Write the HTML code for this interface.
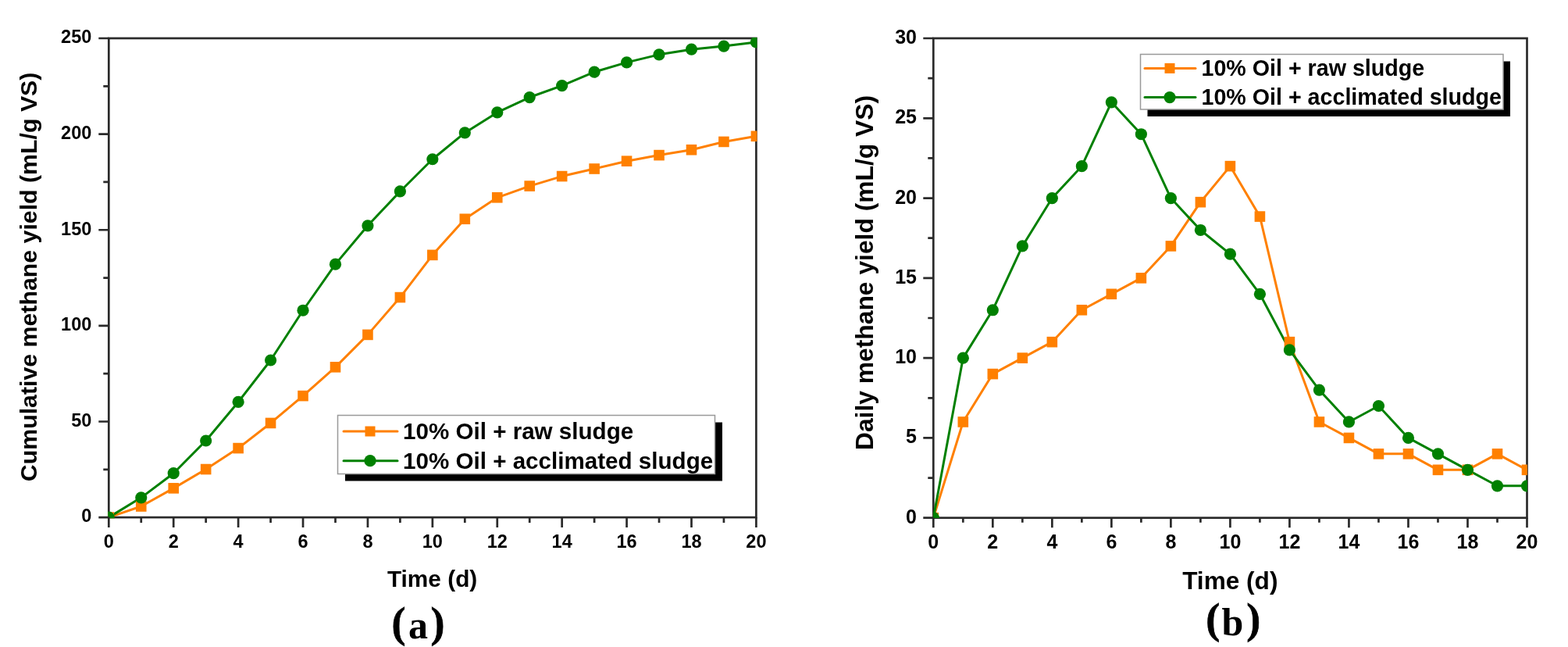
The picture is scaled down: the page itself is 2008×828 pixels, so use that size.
<!DOCTYPE html>
<html><head><meta charset="utf-8"><title>Methane yield</title><style>
html,body{margin:0;padding:0;background:#fff;}
body{width:2008px;height:828px;overflow:hidden;}
svg{display:block;}
text{font-family:"Liberation Sans",Arial,sans-serif;font-weight:bold;fill:#000;}
text.serif{font-family:"Liberation Serif","Times New Roman",serif;}
</style></head><body>
<svg width="2008" height="828" viewBox="0 0 2008 828">
<rect width="2008" height="828" fill="#fff"/>
<clipPath id="ca"><rect x="138.2" y="47.9" width="831.3" height="615.3"/></clipPath>
<rect x="139.3" y="49" width="829.1" height="613.1" fill="none" stroke="#2a2a2a" stroke-width="2.7"/>
<g clip-path="url(#ca)">
<polyline points="139.3,662.1 180.75,648 222.21,624.82 263.67,600.54 305.12,573.57 346.57,541.44 388.03,506.62 429.49,469.83 470.94,428.39 512.39,380.56 553.85,326.37 595.31,280.26 636.76,252.79 678.21,238.08 719.67,225.57 761.12,216.01 802.58,206.2 844.04,198.6 885.49,191.73 926.94,181.43 968.4,174.32" fill="none" stroke="#ff8000" stroke-width="3" stroke-linejoin="round"/>
<polyline points="139.3,662.1 180.75,636.84 222.21,605.69 263.67,564 305.12,514.47 346.57,461 388.03,397.24 429.49,338.14 470.94,288.84 512.39,244.95 553.85,203.75 595.31,169.9 636.76,143.91 678.21,124.53 719.67,109.57 761.12,92.16 802.58,79.9 844.04,69.85 885.49,63.22 926.94,59.05 968.4,53.9" fill="none" stroke="#008000" stroke-width="3" stroke-linejoin="round"/>
<rect x="132.5" y="655.3" width="13.6" height="13.6" fill="#ff8000"/>
<rect x="173.95" y="641.2" width="13.6" height="13.6" fill="#ff8000"/>
<rect x="215.41" y="618.02" width="13.6" height="13.6" fill="#ff8000"/>
<rect x="256.87" y="593.74" width="13.6" height="13.6" fill="#ff8000"/>
<rect x="298.32" y="566.77" width="13.6" height="13.6" fill="#ff8000"/>
<rect x="339.77" y="534.64" width="13.6" height="13.6" fill="#ff8000"/>
<rect x="381.23" y="499.82" width="13.6" height="13.6" fill="#ff8000"/>
<rect x="422.69" y="463.03" width="13.6" height="13.6" fill="#ff8000"/>
<rect x="464.14" y="421.59" width="13.6" height="13.6" fill="#ff8000"/>
<rect x="505.59" y="373.76" width="13.6" height="13.6" fill="#ff8000"/>
<rect x="547.05" y="319.57" width="13.6" height="13.6" fill="#ff8000"/>
<rect x="588.51" y="273.46" width="13.6" height="13.6" fill="#ff8000"/>
<rect x="629.96" y="245.99" width="13.6" height="13.6" fill="#ff8000"/>
<rect x="671.41" y="231.28" width="13.6" height="13.6" fill="#ff8000"/>
<rect x="712.87" y="218.77" width="13.6" height="13.6" fill="#ff8000"/>
<rect x="754.33" y="209.21" width="13.6" height="13.6" fill="#ff8000"/>
<rect x="795.78" y="199.4" width="13.6" height="13.6" fill="#ff8000"/>
<rect x="837.24" y="191.8" width="13.6" height="13.6" fill="#ff8000"/>
<rect x="878.69" y="184.93" width="13.6" height="13.6" fill="#ff8000"/>
<rect x="920.14" y="174.63" width="13.6" height="13.6" fill="#ff8000"/>
<rect x="961.6" y="167.52" width="13.6" height="13.6" fill="#ff8000"/>
<circle cx="139.3" cy="662.1" r="7.6" fill="#008000"/>
<circle cx="180.75" cy="636.84" r="7.6" fill="#008000"/>
<circle cx="222.21" cy="605.69" r="7.6" fill="#008000"/>
<circle cx="263.67" cy="564" r="7.6" fill="#008000"/>
<circle cx="305.12" cy="514.47" r="7.6" fill="#008000"/>
<circle cx="346.57" cy="461" r="7.6" fill="#008000"/>
<circle cx="388.03" cy="397.24" r="7.6" fill="#008000"/>
<circle cx="429.49" cy="338.14" r="7.6" fill="#008000"/>
<circle cx="470.94" cy="288.84" r="7.6" fill="#008000"/>
<circle cx="512.39" cy="244.95" r="7.6" fill="#008000"/>
<circle cx="553.85" cy="203.75" r="7.6" fill="#008000"/>
<circle cx="595.31" cy="169.9" r="7.6" fill="#008000"/>
<circle cx="636.76" cy="143.91" r="7.6" fill="#008000"/>
<circle cx="678.21" cy="124.53" r="7.6" fill="#008000"/>
<circle cx="719.67" cy="109.57" r="7.6" fill="#008000"/>
<circle cx="761.12" cy="92.16" r="7.6" fill="#008000"/>
<circle cx="802.58" cy="79.9" r="7.6" fill="#008000"/>
<circle cx="844.04" cy="69.85" r="7.6" fill="#008000"/>
<circle cx="885.49" cy="63.22" r="7.6" fill="#008000"/>
<circle cx="926.94" cy="59.05" r="7.6" fill="#008000"/>
<circle cx="968.4" cy="53.9" r="7.6" fill="#008000"/>
</g>
<path d="M126.3 662.1H139.3M126.3 539.48H139.3M126.3 416.86H139.3M126.3 294.24H139.3M126.3 171.62H139.3M126.3 49H139.3M132.3 600.79H139.3M132.3 478.17H139.3M132.3 355.55H139.3M132.3 232.93H139.3M132.3 110.31H139.3M139.3 662.1V675.1M180.75 662.1V669.1M222.21 662.1V675.1M263.67 662.1V669.1M305.12 662.1V675.1M346.57 662.1V669.1M388.03 662.1V675.1M429.49 662.1V669.1M470.94 662.1V675.1M512.39 662.1V669.1M553.85 662.1V675.1M595.31 662.1V669.1M636.76 662.1V675.1M678.21 662.1V669.1M719.67 662.1V675.1M761.12 662.1V669.1M802.58 662.1V675.1M844.04 662.1V669.1M885.49 662.1V675.1M926.94 662.1V669.1M968.4 662.1V675.1" stroke="#2a2a2a" stroke-width="2.7" fill="none"/>
<text x="117.3" y="668.4" text-anchor="end" font-size="23.5">0</text>
<text x="117.3" y="545.78" text-anchor="end" font-size="23.5">50</text>
<text x="117.3" y="423.16" text-anchor="end" font-size="23.5">100</text>
<text x="117.3" y="300.54" text-anchor="end" font-size="23.5">150</text>
<text x="117.3" y="177.92" text-anchor="end" font-size="23.5">200</text>
<text x="117.3" y="55.3" text-anchor="end" font-size="23.5">250</text>
<text x="139.3" y="701" text-anchor="middle" font-size="23.5">0</text>
<text x="222.21" y="701" text-anchor="middle" font-size="23.5">2</text>
<text x="305.12" y="701" text-anchor="middle" font-size="23.5">4</text>
<text x="388.03" y="701" text-anchor="middle" font-size="23.5">6</text>
<text x="470.94" y="701" text-anchor="middle" font-size="23.5">8</text>
<text x="553.85" y="701" text-anchor="middle" font-size="23.5">10</text>
<text x="636.76" y="701" text-anchor="middle" font-size="23.5">12</text>
<text x="719.67" y="701" text-anchor="middle" font-size="23.5">14</text>
<text x="802.58" y="701" text-anchor="middle" font-size="23.5">16</text>
<text x="885.49" y="701" text-anchor="middle" font-size="23.5">18</text>
<text x="968.4" y="701" text-anchor="middle" font-size="23.5">20</text>
<text x="553.6" y="750.5" text-anchor="middle" font-size="29.8">Time (d)</text>
<text transform="translate(47 354.4) rotate(-90)" text-anchor="middle" font-size="30.3">Cumulative methane yield (mL/g VS)</text>
<text class="serif" text-anchor="middle"><tspan x="510.5" y="814.5" font-size="54" stroke="#000" stroke-width="0.7">(</tspan><tspan x="535.6" y="817" font-size="50">a</tspan><tspan x="560.6" y="814.5" font-size="54" stroke="#000" stroke-width="0.7">)</tspan></text>
<rect x="442" y="540.5" width="483" height="75" fill="#000"/>
<rect x="432.5" y="531.5" width="483" height="75" fill="#fff" stroke="#999" stroke-width="1.5"/>
<path d="M440 552H509" stroke="#ff8000" stroke-width="3" stroke-linecap="round"/>
<rect x="467.5" y="545.5" width="13" height="13" fill="#ff8000"/>
<path d="M440 589.7H509" stroke="#008000" stroke-width="3" stroke-linecap="round"/>
<circle cx="474" cy="589.7" r="7.6" fill="#008000"/>
<text x="516" y="561.8" font-size="29.6">10% Oil + raw sludge</text>
<text x="516" y="599.6" font-size="29.6">10% Oil + acclimated sludge</text>
<clipPath id="cb"><rect x="1194.9" y="48.6" width="761" height="614.5"/></clipPath>
<rect x="1195.3" y="49" width="760.2" height="613.7" fill="none" stroke="#2a2a2a" stroke-width="2.7"/>
<g clip-path="url(#cb)">
<polyline points="1195.3,662.7 1233.31,539.96 1271.32,478.59 1309.33,458.13 1347.34,437.68 1385.35,396.76 1423.36,376.31 1461.37,355.85 1499.38,314.94 1537.39,258.68 1575.4,212.65 1613.41,277.09 1651.42,437.68 1689.43,539.96 1727.44,560.42 1765.45,580.87 1803.46,580.87 1841.47,601.33 1879.48,601.33 1917.49,580.87 1955.5,601.33" fill="none" stroke="#ff8000" stroke-width="3" stroke-linejoin="round"/>
<polyline points="1195.3,662.7 1233.31,458.13 1271.32,396.76 1309.33,314.94 1347.34,253.57 1385.35,212.65 1423.36,130.83 1461.37,171.74 1499.38,253.57 1537.39,294.48 1575.4,325.17 1613.41,376.31 1651.42,447.91 1689.43,499.05 1727.44,539.96 1765.45,519.5 1803.46,560.42 1841.47,580.87 1879.48,601.33 1917.49,621.79 1955.5,621.79" fill="none" stroke="#008000" stroke-width="3" stroke-linejoin="round"/>
<rect x="1188.5" y="655.9" width="13.6" height="13.6" fill="#ff8000"/>
<rect x="1226.51" y="533.16" width="13.6" height="13.6" fill="#ff8000"/>
<rect x="1264.52" y="471.79" width="13.6" height="13.6" fill="#ff8000"/>
<rect x="1302.53" y="451.33" width="13.6" height="13.6" fill="#ff8000"/>
<rect x="1340.54" y="430.88" width="13.6" height="13.6" fill="#ff8000"/>
<rect x="1378.55" y="389.96" width="13.6" height="13.6" fill="#ff8000"/>
<rect x="1416.56" y="369.51" width="13.6" height="13.6" fill="#ff8000"/>
<rect x="1454.57" y="349.05" width="13.6" height="13.6" fill="#ff8000"/>
<rect x="1492.58" y="308.14" width="13.6" height="13.6" fill="#ff8000"/>
<rect x="1530.59" y="251.88" width="13.6" height="13.6" fill="#ff8000"/>
<rect x="1568.6" y="205.85" width="13.6" height="13.6" fill="#ff8000"/>
<rect x="1606.61" y="270.29" width="13.6" height="13.6" fill="#ff8000"/>
<rect x="1644.62" y="430.88" width="13.6" height="13.6" fill="#ff8000"/>
<rect x="1682.63" y="533.16" width="13.6" height="13.6" fill="#ff8000"/>
<rect x="1720.64" y="553.62" width="13.6" height="13.6" fill="#ff8000"/>
<rect x="1758.65" y="574.07" width="13.6" height="13.6" fill="#ff8000"/>
<rect x="1796.66" y="574.07" width="13.6" height="13.6" fill="#ff8000"/>
<rect x="1834.67" y="594.53" width="13.6" height="13.6" fill="#ff8000"/>
<rect x="1872.68" y="594.53" width="13.6" height="13.6" fill="#ff8000"/>
<rect x="1910.69" y="574.07" width="13.6" height="13.6" fill="#ff8000"/>
<rect x="1948.7" y="594.53" width="13.6" height="13.6" fill="#ff8000"/>
<circle cx="1195.3" cy="662.7" r="7.6" fill="#008000"/>
<circle cx="1233.31" cy="458.13" r="7.6" fill="#008000"/>
<circle cx="1271.32" cy="396.76" r="7.6" fill="#008000"/>
<circle cx="1309.33" cy="314.94" r="7.6" fill="#008000"/>
<circle cx="1347.34" cy="253.57" r="7.6" fill="#008000"/>
<circle cx="1385.35" cy="212.65" r="7.6" fill="#008000"/>
<circle cx="1423.36" cy="130.83" r="7.6" fill="#008000"/>
<circle cx="1461.37" cy="171.74" r="7.6" fill="#008000"/>
<circle cx="1499.38" cy="253.57" r="7.6" fill="#008000"/>
<circle cx="1537.39" cy="294.48" r="7.6" fill="#008000"/>
<circle cx="1575.4" cy="325.17" r="7.6" fill="#008000"/>
<circle cx="1613.41" cy="376.31" r="7.6" fill="#008000"/>
<circle cx="1651.42" cy="447.91" r="7.6" fill="#008000"/>
<circle cx="1689.43" cy="499.05" r="7.6" fill="#008000"/>
<circle cx="1727.44" cy="539.96" r="7.6" fill="#008000"/>
<circle cx="1765.45" cy="519.5" r="7.6" fill="#008000"/>
<circle cx="1803.46" cy="560.42" r="7.6" fill="#008000"/>
<circle cx="1841.47" cy="580.87" r="7.6" fill="#008000"/>
<circle cx="1879.48" cy="601.33" r="7.6" fill="#008000"/>
<circle cx="1917.49" cy="621.79" r="7.6" fill="#008000"/>
<circle cx="1955.5" cy="621.79" r="7.6" fill="#008000"/>
</g>
<path d="M1182.3 662.7H1195.3M1182.3 560.42H1195.3M1182.3 458.13H1195.3M1182.3 355.85H1195.3M1182.3 253.57H1195.3M1182.3 151.28H1195.3M1182.3 49H1195.3M1188.3 611.56H1195.3M1188.3 509.28H1195.3M1188.3 406.99H1195.3M1188.3 304.71H1195.3M1188.3 202.43H1195.3M1188.3 100.14H1195.3M1195.3 662.7V675.2M1233.31 662.7V668.7M1271.32 662.7V675.2M1309.33 662.7V668.7M1347.34 662.7V675.2M1385.35 662.7V668.7M1423.36 662.7V675.2M1461.37 662.7V668.7M1499.38 662.7V675.2M1537.39 662.7V668.7M1575.4 662.7V675.2M1613.41 662.7V668.7M1651.42 662.7V675.2M1689.43 662.7V668.7M1727.44 662.7V675.2M1765.45 662.7V668.7M1803.46 662.7V675.2M1841.47 662.7V668.7M1879.48 662.7V675.2M1917.49 662.7V668.7M1955.5 662.7V675.2" stroke="#2a2a2a" stroke-width="2.7" fill="none"/>
<text x="1174" y="669.75" text-anchor="end" font-size="25">0</text>
<text x="1174" y="567.47" text-anchor="end" font-size="25">5</text>
<text x="1174" y="465.18" text-anchor="end" font-size="25">10</text>
<text x="1174" y="362.9" text-anchor="end" font-size="25">15</text>
<text x="1174" y="260.62" text-anchor="end" font-size="25">20</text>
<text x="1174" y="158.33" text-anchor="end" font-size="25">25</text>
<text x="1174" y="56.05" text-anchor="end" font-size="25">30</text>
<text x="1195.3" y="702.3" text-anchor="middle" font-size="25">0</text>
<text x="1271.32" y="702.3" text-anchor="middle" font-size="25">2</text>
<text x="1347.34" y="702.3" text-anchor="middle" font-size="25">4</text>
<text x="1423.36" y="702.3" text-anchor="middle" font-size="25">6</text>
<text x="1499.38" y="702.3" text-anchor="middle" font-size="25">8</text>
<text x="1575.4" y="702.3" text-anchor="middle" font-size="25">10</text>
<text x="1651.42" y="702.3" text-anchor="middle" font-size="25">12</text>
<text x="1727.44" y="702.3" text-anchor="middle" font-size="25">14</text>
<text x="1803.46" y="702.3" text-anchor="middle" font-size="25">16</text>
<text x="1879.48" y="702.3" text-anchor="middle" font-size="25">18</text>
<text x="1955.5" y="702.3" text-anchor="middle" font-size="25">20</text>
<text x="1575.3" y="753.9" text-anchor="middle" font-size="31.6">Time (d)</text>
<text transform="translate(1117.5 349) rotate(-90)" text-anchor="middle" font-size="31.8">Daily methane yield (mL/g VS)</text>
<text class="serif" text-anchor="middle"><tspan x="1553.2" y="810" font-size="54" stroke="#000" stroke-width="0.7">(</tspan><tspan x="1578.5" y="812.5" font-size="50">b</tspan><tspan x="1605.2" y="810" font-size="54" stroke="#000" stroke-width="0.7">)</tspan></text>
<rect x="1469.5" y="78.5" width="464.5" height="70.5" fill="#000"/>
<rect x="1460.5" y="69.5" width="464.5" height="70.5" fill="#fff" stroke="#999" stroke-width="1.5"/>
<path d="M1466 87.4H1531" stroke="#ff8000" stroke-width="3" stroke-linecap="round"/>
<rect x="1491.5" y="80.9" width="13" height="13" fill="#ff8000"/>
<path d="M1466 124.6H1531" stroke="#008000" stroke-width="3" stroke-linecap="round"/>
<circle cx="1498" cy="124.6" r="7.6" fill="#008000"/>
<text x="1538.5" y="97.4" font-size="28.65">10% Oil + raw sludge</text>
<text x="1538.5" y="133.6" font-size="28.65">10% Oil + acclimated sludge</text>
</svg>
</body></html>
